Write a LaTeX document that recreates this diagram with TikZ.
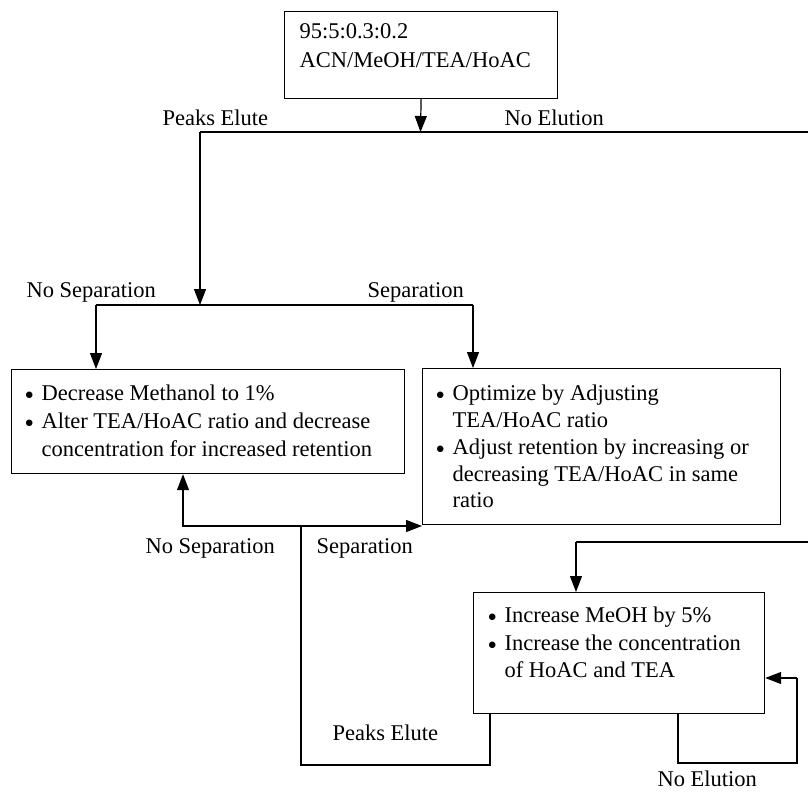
\documentclass[tikz,border=0pt]{standalone}
\usepackage{fontspec}
\setmainfont{Liberation Serif}
\newfontfamily\symfont{DejaVu Sans}
\usetikzlibrary{arrows.meta}
\newcommand{\bul}{\makebox[16pt][l]{\raisebox{2.5pt}{\symfont\fontsize{8.5}{8.5}\selectfont ●}}}
\begin{document}
\begin{tikzpicture}[x=1pt,y=-1pt, line width=1.2pt,
 box/.style={draw, rectangle, inner sep=0pt, anchor=north west},
 txt/.style={inner sep=0pt, anchor=base west, font=\fontsize{22.5}{27}\selectfont},
 arr/.style={-{Triangle[length=16pt,width=12pt]}}]
\useasboundingbox (0,0) rectangle (808,792);
\begin{scope}
\clip (0,0) rectangle (808,792);
% boxes
\node[box, minimum width=273pt, minimum height=87pt] (top) at (284,11) {};
\node[box, minimum width=393pt, minimum height=104pt] (left) at (11,369) {};
\node[box, minimum width=358pt, minimum height=156pt] (right) at (422,368) {};
\node[box, minimum width=291pt, minimum height=121pt] (bot) at (473,592) {};
% box texts
\node[txt] (t1) at (299,39) {95:5:0.3:0.2};
\node[txt] (t2) at (299,67) {ACN/MeOH/TEA/HoAC};
\node[txt] (l1) at (25,400) {\bul Decrease Methanol to 1\%};
\node[txt] (l2) at (25,428) {\bul Alter TEA/HoAC ratio and decrease};
\node[txt] (l3) at (41,456) {concentration for increased retention};
\node[txt] (r1) at (436,400) {\bul Optimize by Adjusting};
\node[txt] (r2) at (452,427) {TEA/HoAC ratio};
\node[txt] (r3) at (436,454) {\bul Adjust retention by increasing or};
\node[txt] (r4) at (452,481) {decreasing TEA/HoAC in same};
\node[txt] (r5) at (452,507) {ratio};
\node[txt] (b1) at (488,622) {\bul Increase MeOH by 5\%};
\node[txt] (b2) at (488,650) {\bul Increase the concentration};
\node[txt] (b3) at (504,677) {of HoAC and TEA};
% labels
\node[txt] (la1) at (162,125) {Peaks Elute};
\node[txt] (la2) at (504,125) {No Elution};
\node[txt] (la3) at (26,297) {No Separation};
\node[txt] (la4) at (367,297) {Separation};
\node[txt] (la5) at (145,553) {No Separation};
\node[txt] (la6) at (316,553) {Separation};
\node[txt] (la7) at (332,740) {Peaks Elute};
\node[txt] (la8) at (657,786) {No Elution};
% coordinates
\coordinate (j1) at (420.5,132);
\coordinate (pl) at (200,132);
\coordinate (nr) at (818,132);
\coordinate (j2) at (200,305);
\coordinate (sl) at (96,305);
\coordinate (sr) at (473,305);
\coordinate (j3) at (301,526);
\coordinate (ql) at (183,526);
\coordinate (pb1) at (301,765);
\coordinate (pb2) at (490,765);
\coordinate (ne2) at (818,542);
\coordinate (ne3) at (576,542);
\coordinate (lb1) at (678,763);
\coordinate (lb2) at (797,763);
\coordinate (lb3) at (797,678);
% connectors
\draw[arr] (top.south) -- (j1);
\draw (j1) -- (pl);
\draw[arr] (pl) -- (j2);
\draw (sl) -- (sr);
\draw[arr] (sl) -- (sl |- left.north);
\draw[arr] (sr) -- (sr |- right.north);
\draw (j1) -- (nr) -- (ne2) -- (ne3);
\draw[arr] (ne3) -- (ne3 |- bot.north);
\draw (bot.south -| pb2) -- (pb2) -- (pb1) -- (j3);
\draw[arr] (j3) -- (ql) -- (ql |- left.south);
\draw[arr] (j3) -- (j3 -| right.west);
\draw (bot.south -| lb1) -- (lb1) -- (lb2) -- (lb3);
\draw[arr] (lb3) -- (lb3 -| bot.east);
\end{scope}
\end{tikzpicture}
\end{document}
